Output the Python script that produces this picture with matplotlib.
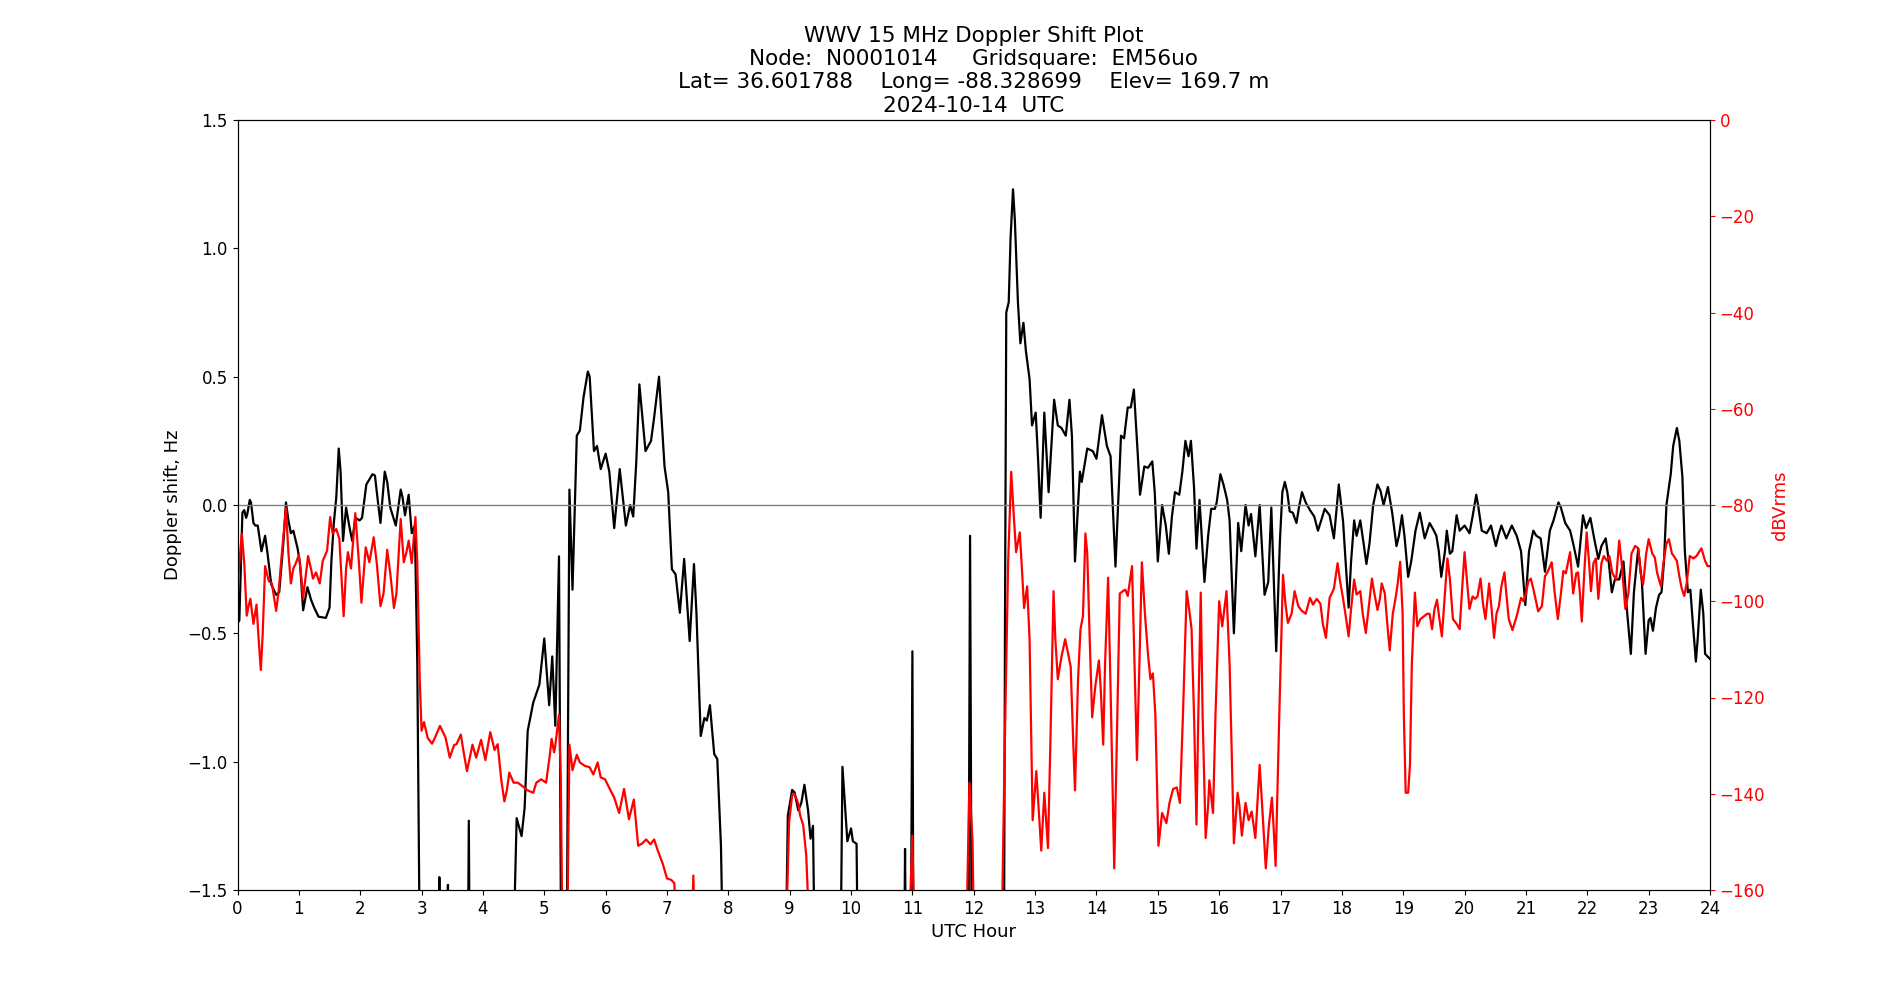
import matplotlib
matplotlib.use("Agg")
import matplotlib.pyplot as plt

# Doppler shift (Hz) vs UTC hour; values below -1.5 are off-chart
dop_hours = [0.0, 0.03, 0.08, 0.11, 0.14, 0.16, 0.2, 0.22, 0.26, 0.29, 0.33, 0.39, 0.45, 0.49, 0.55, 0.63, 0.68, 0.75, 0.79, 0.83, 0.87, 0.91, 0.98, 1.02, 1.07, 1.14, 1.2, 1.25, 1.32, 1.44, 1.5, 1.53, 1.57, 1.61, 1.65, 1.68, 1.72, 1.77, 1.82, 1.87, 1.92, 1.99, 2.03, 2.1, 2.2, 2.24, 2.29, 2.33, 2.4, 2.44, 2.49, 2.58, 2.66, 2.69, 2.73, 2.79, 2.84, 2.89, 2.93, 2.98,
             3.27, 3.29, 3.31, 3.42, 3.43, 3.44, 3.75, 3.77, 3.79, 4.47, 4.55, 4.63, 4.68, 4.73, 4.82, 4.92, 5.0, 5.08, 5.13, 5.18, 5.24, 5.28, 5.36, 5.41, 5.46, 5.53, 5.58, 5.64, 5.71, 5.74, 5.81, 5.86, 5.92, 6.0, 6.06, 6.14, 6.23, 6.33, 6.4, 6.45, 6.5, 6.55, 6.65, 6.74, 6.79, 6.87, 6.96, 7.02, 7.08, 7.14, 7.21, 7.28, 7.37, 7.44, 7.48, 7.55, 7.61, 7.65, 7.7, 7.77, 7.82, 7.88, 7.93,
             8.92, 8.97, 9.04, 9.08, 9.14, 9.19, 9.24, 9.30, 9.34, 9.38, 9.42, 9.82, 9.86, 9.91, 9.94, 10.0, 10.03, 10.09, 10.12, 10.86, 10.88, 10.9, 10.97, 11.0, 11.02, 11.91, 11.94, 11.97,
             12.49, 12.51, 12.53, 12.57, 12.6, 12.64, 12.67, 12.72, 12.76, 12.81, 12.85, 12.91, 12.95, 13.01, 13.05, 13.09, 13.15, 13.22, 13.31, 13.37, 13.43, 13.5, 13.56, 13.6, 13.65, 13.73, 13.76, 13.85, 13.94, 14.0, 14.09, 14.17, 14.23, 14.31, 14.4, 14.45, 14.51, 14.56, 14.61, 14.67, 14.71, 14.78, 14.84, 14.91, 14.95,
             15.0, 15.07, 15.13, 15.18, 15.23, 15.28, 15.35, 15.4, 15.45, 15.5, 15.54, 15.59, 15.63, 15.68, 15.72, 15.76, 15.82, 15.87, 15.93, 15.96, 16.02, 16.07, 16.13, 16.17, 16.24, 16.31, 16.36, 16.43, 16.48, 16.52, 16.59, 16.66, 16.74, 16.8, 16.85, 16.93, 16.99, 17.03, 17.07, 17.11, 17.15, 17.2, 17.26, 17.3, 17.35, 17.41, 17.48, 17.55, 17.61, 17.67, 17.72, 17.8, 17.87, 17.95,
             18.02, 18.05, 18.11, 18.15, 18.2, 18.24, 18.3, 18.36, 18.4, 18.45, 18.51, 18.58, 18.63, 18.68, 18.75, 18.82, 18.89, 18.93, 18.98, 19.02, 19.08, 19.13, 19.2, 19.27, 19.31, 19.35, 19.43, 19.5, 19.54, 19.58, 19.62, 19.68, 19.71, 19.76, 19.8, 19.87, 19.92, 20.0, 20.08, 20.13, 20.19, 20.22, 20.28, 20.36, 20.43, 20.51, 20.55, 20.6, 20.68, 20.77, 20.85, 20.92, 20.99,
             21.05, 21.12, 21.17, 21.24, 21.31, 21.39, 21.45, 21.53, 21.57, 21.64, 21.72, 21.77, 21.85, 21.93, 21.98, 22.05, 22.12, 22.18, 22.23, 22.3, 22.34, 22.4, 22.45, 22.52, 22.59, 22.65, 22.71, 22.76, 22.83, 22.89, 22.95, 23.0, 23.03, 23.07, 23.12, 23.17, 23.21, 23.25, 23.29, 23.36, 23.4, 23.46, 23.5, 23.55, 23.59, 23.64, 23.68, 23.72, 23.77, 23.8, 23.85, 23.89, 23.92, 24.0]
dop_hz = [-0.46, -0.45, -0.03, -0.02, -0.05, -0.035, 0.02, 0.01, -0.07, -0.08, -0.08, -0.18, -0.12, -0.19, -0.31, -0.35, -0.34, -0.14, 0.01, -0.06, -0.11, -0.10, -0.17, -0.23, -0.41, -0.32, -0.37, -0.40, -0.435, -0.44, -0.40, -0.22, -0.07, 0.03, 0.22, 0.13, -0.14, -0.01, -0.08, -0.14, -0.05, -0.06, -0.05, 0.08, 0.12, 0.115, 0.01, -0.07, 0.13, 0.09, -0.01, -0.08, 0.06, 0.03, -0.04, 0.04, -0.11, -0.08, -0.61, -2.0,
          -2.0, -1.45, -2.0, -2.0, -1.48, -2.0, -2.0, -1.23, -2.0, -2.0, -1.22, -1.29, -1.18, -0.88, -0.77, -0.70, -0.52, -0.78, -0.59, -0.86, -0.20, -2.0, -2.0, 0.06, -0.33, 0.27, 0.29, 0.42, 0.52, 0.50, 0.21, 0.23, 0.14, 0.20, 0.13, -0.09, 0.14, -0.08, 0.0, -0.045, 0.17, 0.47, 0.21, 0.25, 0.34, 0.50, 0.15, 0.05, -0.25, -0.27, -0.42, -0.21, -0.53, -0.23, -0.42, -0.90, -0.83, -0.84, -0.78, -0.97, -0.99, -1.33, -2.0,
          -2.0, -1.21, -1.11, -1.12, -1.19, -1.16, -1.09, -1.19, -1.30, -1.25, -2.0, -2.0, -1.02, -1.20, -1.31, -1.26, -1.31, -1.32, -2.0, -2.0, -1.34, -2.0, -2.0, -0.57, -2.0, -2.0, -0.12, -2.0,
          -2.0, -0.4, 0.75, 0.79, 1.04, 1.23, 1.11, 0.79, 0.63, 0.71, 0.60, 0.49, 0.31, 0.36, 0.17, -0.05, 0.36, 0.05, 0.41, 0.31, 0.30, 0.27, 0.41, 0.27, -0.22, 0.13, 0.09, 0.22, 0.21, 0.18, 0.35, 0.23, 0.19, -0.24, 0.27, 0.26, 0.38, 0.38, 0.45, 0.21, 0.04, 0.15, 0.145, 0.17, 0.05,
          -0.22, 0.0, -0.08, -0.19, -0.045, 0.05, 0.04, 0.13, 0.25, 0.19, 0.25, 0.07, -0.17, 0.02, -0.14, -0.30, -0.12, -0.015, -0.015, 0.01, 0.12, 0.08, 0.02, -0.06, -0.50, -0.07, -0.18, 0.0, -0.08, -0.035, -0.20, 0.0, -0.35, -0.30, -0.01, -0.57, -0.14, 0.05, 0.09, 0.05, -0.025, -0.03, -0.07, -0.01, 0.05, 0.01, -0.02, -0.045, -0.10, -0.055, -0.015, -0.04, -0.13, 0.08,
          -0.065, -0.18, -0.40, -0.22, -0.06, -0.12, -0.06, -0.16, -0.23, -0.15, 0.0, 0.08, 0.055, 0.0, 0.07, -0.03, -0.16, -0.12, -0.04, -0.12, -0.28, -0.22, -0.10, -0.03, -0.08, -0.13, -0.07, -0.10, -0.12, -0.18, -0.28, -0.18, -0.10, -0.19, -0.18, -0.04, -0.10, -0.08, -0.11, -0.045, 0.04, 0.0, -0.10, -0.11, -0.08, -0.16, -0.12, -0.08, -0.13, -0.08, -0.12, -0.18, -0.39,
          -0.18, -0.10, -0.12, -0.13, -0.26, -0.10, -0.06, 0.01, -0.01, -0.07, -0.10, -0.15, -0.24, -0.04, -0.09, -0.05, -0.14, -0.21, -0.16, -0.13, -0.20, -0.34, -0.29, -0.29, -0.22, -0.42, -0.58, -0.34, -0.17, -0.30, -0.58, -0.45, -0.44, -0.49, -0.40, -0.35, -0.34, -0.22, 0.0, 0.12, 0.23, 0.30, 0.25, 0.11, -0.18, -0.34, -0.33, -0.46, -0.61, -0.52, -0.33, -0.42, -0.58, -0.60]

# Signal level (dBVrms) vs UTC hour; values below -160 are off-chart
lvl_hours = [0.0, 0.03, 0.07, 0.11, 0.15, 0.18, 0.21, 0.26, 0.31, 0.34, 0.38, 0.41, 0.45, 0.51, 0.56, 0.63, 0.67, 0.73, 0.79, 0.83, 0.87, 0.91, 0.95, 1.0, 1.04, 1.07, 1.15, 1.2, 1.23, 1.28, 1.34, 1.39, 1.46, 1.51, 1.55, 1.61, 1.66, 1.73, 1.77, 1.8, 1.85, 1.92, 1.98, 2.02, 2.09, 2.15, 2.22, 2.27, 2.33, 2.38, 2.44, 2.49, 2.55, 2.59, 2.66, 2.71, 2.75, 2.79, 2.84, 2.9, 2.93, 2.97,
              3.0, 3.04, 3.1, 3.17, 3.22, 3.3, 3.39, 3.46, 3.53, 3.57, 3.64, 3.68, 3.74, 3.83, 3.89, 3.97, 4.04, 4.12, 4.19, 4.24, 4.3, 4.35, 4.39, 4.43, 4.5, 4.57, 4.65, 4.73, 4.82, 4.87, 4.95, 5.03, 5.09, 5.12, 5.16, 5.18, 5.24, 5.27, 5.3, 5.37, 5.41, 5.46, 5.53, 5.58, 5.66, 5.74, 5.8, 5.87, 5.92, 5.99,
              6.06, 6.14, 6.22, 6.3, 6.38, 6.46, 6.53, 6.6, 6.66, 6.73, 6.79, 6.85, 6.93, 7.0, 7.07, 7.12, 7.18, 7.39, 7.43, 7.46, 8.93, 8.99, 9.04, 9.08, 9.14, 9.17, 9.22, 9.27, 9.34, 10.93, 11.0, 11.04, 11.87, 11.93, 11.98, 12.01,
              12.45, 12.5, 12.56, 12.61, 12.65, 12.69, 12.75, 12.78, 12.82, 12.87, 12.91, 12.96, 13.02, 13.06, 13.1, 13.15, 13.21, 13.25, 13.3, 13.33, 13.37, 13.43, 13.49, 13.54, 13.58, 13.62, 13.65, 13.7, 13.74, 13.78, 13.82, 13.85, 13.89, 13.93, 13.98, 14.04, 14.07, 14.11, 14.14, 14.19, 14.23, 14.29, 14.34, 14.38, 14.43, 14.47, 14.51, 14.58, 14.62, 14.66, 14.71, 14.74, 14.79, 14.84, 14.88, 14.92, 14.96,
              15.01, 15.07, 15.14, 15.19, 15.25, 15.31, 15.36, 15.41, 15.47, 15.52, 15.55, 15.59, 15.63, 15.66, 15.7, 15.73, 15.78, 15.82, 15.84, 15.9, 15.94, 16.0, 16.05, 16.12, 16.17, 16.24, 16.3, 16.33, 16.37, 16.43, 16.48, 16.53, 16.59, 16.66, 16.71, 16.76, 16.81, 16.86, 16.89, 16.92, 16.98,
              17.04, 17.08, 17.12, 17.18, 17.23, 17.29, 17.34, 17.41, 17.48, 17.53, 17.59, 17.65, 17.69, 17.74, 17.8, 17.87, 17.93, 17.97, 18.02, 18.07, 18.11, 18.15, 18.2, 18.24, 18.3, 18.34, 18.39, 18.44, 18.49, 18.53, 18.58, 18.62, 18.65, 18.7, 18.74, 18.78, 18.83, 18.88, 18.91, 18.95, 18.99,
              19.01, 19.04, 19.08, 19.11, 19.14, 19.19, 19.23, 19.28, 19.34, 19.39, 19.43, 19.47, 19.51, 19.55, 19.59, 19.63, 19.68, 19.72, 19.76, 19.81, 19.87, 19.92, 19.96, 20.0, 20.05, 20.08, 20.13, 20.17, 20.21, 20.26, 20.3, 20.34, 20.4, 20.44, 20.48, 20.52, 20.56, 20.6, 20.65, 20.68, 20.72, 20.78, 20.85, 20.92, 20.96,
              21.0, 21.04, 21.08, 21.12, 21.2, 21.26, 21.31, 21.35, 21.42, 21.47, 21.52, 21.57, 21.61, 21.65, 21.72, 21.77, 21.82, 21.85, 21.88, 21.91, 21.95, 21.99, 22.03, 22.06, 22.1, 22.14, 22.18, 22.23, 22.27, 22.32, 22.36, 22.41, 22.47, 22.52, 22.56, 22.62, 22.67, 22.72, 22.78, 22.83, 22.87, 22.91, 22.96,
              23.0, 23.06, 23.1, 23.14, 23.2, 23.24, 23.29, 23.33, 23.38, 23.41, 23.46, 23.5, 23.54, 23.58, 23.62, 23.67, 23.73, 23.78, 23.86, 23.92, 23.96, 24.0]
lvl_db = [-96.9, -92, -85.9, -92, -103, -101, -99.5, -104.7, -100.7, -107, -114.3, -107, -92.7, -95.8, -96.3, -102, -98, -89, -80.6, -90, -96.3, -93.2, -92.1, -90.4, -95, -99.3, -90.6, -93.4, -95.3, -94, -96.3, -91.6, -89.5, -82.5, -85.9, -85, -87, -103.1, -93.2, -89.8, -93.2, -81.7, -92.1, -100.3, -88.8, -91.9, -86.7, -92.1, -101, -98.4, -89.3, -94.2, -101.4, -98.4, -82.9, -91.9, -90, -87.4, -92.1, -82.5, -92.1, -116.2,
          -126.9, -125.1, -128.4, -129.6, -128.3, -125.9, -128.3, -132.5, -129.9, -129.7, -127.7, -130.9, -135.3, -129.8, -132.5, -128.8, -133, -127.2, -130.9, -129.7, -137.2, -141.6, -139.3, -135.6, -137.7, -137.7, -138.5, -139.3, -139.8, -137.7, -137, -137.7, -132, -128.6, -131.4, -129.9, -123.6, -137.2, -175, -175, -129.8, -135.1, -131.9, -133.5, -134.2, -134.5, -136, -133.5, -136.6, -137,
          -138.8, -140.8, -144, -139, -145.3, -141.2, -150.8, -150.3, -149.5, -150.5, -149.5, -151.8, -154.5, -157.6, -157.9, -158.6, -175, -175, -157, -175, -175, -146, -140.3, -140.1, -142, -144.5, -146.5, -152.8, -175, -175, -148.7, -175, -175, -137.7, -150, -175,
          -175, -134, -92.1, -73.1, -81.7, -89.8, -85.7, -92.1, -101.4, -96.9, -107.9, -145.5, -135.3, -143.5, -151.8, -139.8, -151.3, -128.8, -97.9, -107.9, -116.2, -111.5, -107.9, -111, -113.6, -128.8, -139.3, -116.2, -105.8, -103.1, -85.9, -90.1, -107.9, -124.1, -117.8, -112.3, -118.3, -129.8, -113.1, -95.1, -118.3, -155.5, -123.6, -98.4, -97.9, -97.6, -98.9, -92.7, -113.1, -133, -107.9, -91.9, -102.6, -111, -116.2, -115, -123.6,
          -150.8, -144, -146.1, -141.9, -139, -138.7, -141.9, -123.6, -97.9, -102.6, -105.8, -123.6, -146.4, -123.6, -98.2, -123.6, -149.2, -142.4, -137.2, -144, -123.6, -100, -105.2, -97.9, -113.1, -150.3, -139.8, -142.4, -148.7, -141.9, -145.5, -143.7, -149.2, -134, -144.5, -155.5, -146.6, -140.8, -147.6, -155, -123.6,
          -94.5, -100.5, -104.5, -102.6, -97.9, -101, -101.9, -102.6, -99.3, -100.7, -99.5, -100.5, -104.7, -107.6, -99.3, -97.4, -92.1, -95.8, -99.5, -103.7, -107.3, -101.6, -95.5, -98.6, -97.9, -102.6, -106.6, -101, -95.3, -98.4, -101.8, -99.5, -96.3, -98.4, -104.7, -110.2, -102.6, -99, -96.3, -91.8, -102.6,
          -123.6, -139.8, -139.8, -134, -113.1, -98.2, -105.2, -103.7, -103.1, -102.6, -102.6, -105.8, -101.6, -99.7, -103.7, -107.3, -98.4, -91.1, -95.3, -103.7, -104.7, -105.8, -97.4, -89.8, -97.4, -101.6, -99, -99.5, -99, -95.3, -100.5, -103.7, -96.3, -101.6, -107.6, -102.6, -101, -96.9, -94, -98.4, -103.7, -106, -103.1, -99.3, -100,
          -98.4, -95.8, -95.3, -97.4, -102.1, -101, -94.8, -94, -91.9, -98.4, -103.7, -98.4, -93.7, -94.2, -89.8, -98.4, -94.2, -94, -98.4, -104.2, -94.2, -85.7, -92.1, -97.9, -92.1, -91.1, -99.5, -92.1, -90.6, -91.6, -90.6, -94.2, -95.5, -87.4, -92.1, -101.6, -98.4, -90.1, -88.5, -89, -94.2, -96.5, -90.1,
          -87.1, -90.1, -90.9, -94.2, -96.9, -92.1, -88, -87.1, -90.1, -90.6, -91.6, -94.8, -97.4, -98.9, -96.3, -90.6, -91.1, -90.6, -89, -91.6, -92.7, -92.7]

hour_ticks = list(range(0, 25))
title_lines = ["WWV 15 MHz Doppler Shift Plot",
               "Node:  N0001014     Gridsquare:  EM56uo",
               "Lat= 36.601788    Long= -88.328699    Elev= 169.7 m",
               "2024-10-14  UTC"]

fig, ax = plt.subplots(figsize=(19, 10), dpi=100)
ax.plot(dop_hours, dop_hz, color="black", linewidth=1.6,
        solid_joinstyle="round")
ax.axhline(0, color="grey", linewidth=1)
ax.set_xlim(0, 24)
ax.set_ylim(-1.5, 1.5)
ax.set_xticks(hour_ticks)
ax.set_yticks([-1.5, -1.0, -0.5, 0.0, 0.5, 1.0, 1.5])
ax.tick_params(labelsize=12)
ax.set_xlabel("UTC Hour", fontsize=13)
ax.set_ylabel("Doppler shift, Hz", fontsize=13)
ax.set_title("\n".join(title_lines), fontsize=15.5)

ax2 = ax.twinx()
ax2.plot(lvl_hours, lvl_db, color="red", linewidth=1.6,
         solid_joinstyle="round")
ax2.set_ylim(-160, 0)
ax2.set_yticks(list(range(-160, 1, 20)))
ax2.tick_params(axis="y", labelsize=12, colors="red")
ax2.spines["right"].set_color("black")
ax2.set_ylabel("dBVrms", color="red", fontsize=13)
ax2.set_xlim(0, 24)

fig.savefig("out.png", dpi=100)
